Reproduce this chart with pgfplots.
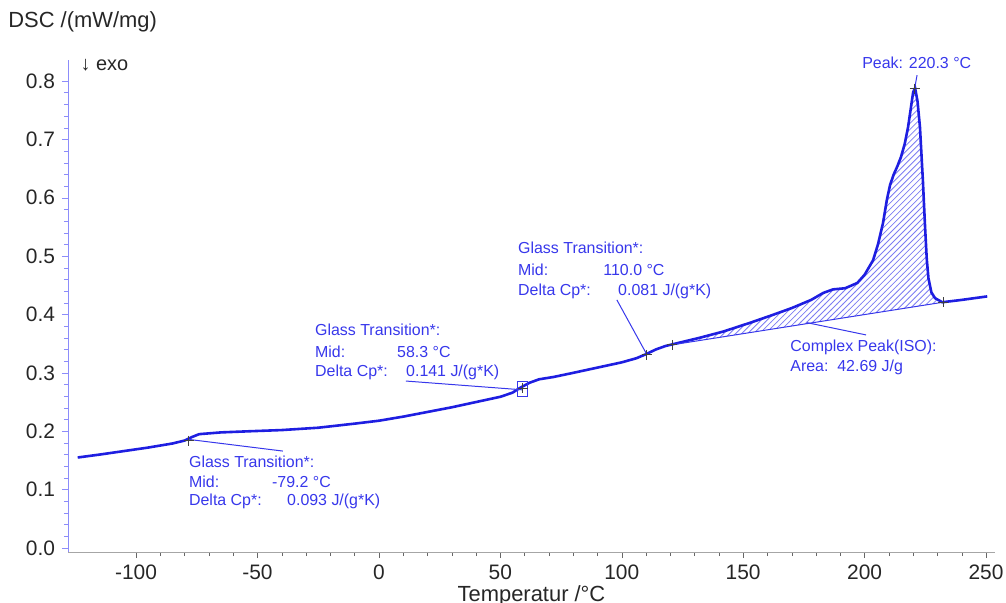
\documentclass[border=0pt]{standalone}
\usepackage{fontspec}
\setmainfont{Liberation Sans}
\usepackage{pgfplots}
\pgfplotsset{compat=1.18}
\usepgfplotslibrary{fillbetween}
\usetikzlibrary{patterns}
\definecolor{dsc}{RGB}{30,30,225}
\definecolor{ann}{RGB}{55,55,235}
\definecolor{yax}{RGB}{140,140,250}
\begin{document}
\begin{tikzpicture}
\begin{axis}[
  scale only axis, width=463.5bp, height=246bp,
  xmin=-128, xmax=253.7, ymin=-0.0069, ymax=0.836,
  axis x line*=bottom, axis y line*=left,
  x axis line style={-, gray!70}, y axis line style={-, yax},
  xtick={-100,-50,0,50,100,150,200,250}, minor x tick num=4,
  ytick={0,0.1,0.2,0.3,0.4,0.5,0.6,0.7,0.8}, minor y tick num=4,
  tick align=outside, major tick length=3bp, minor tick length=2bp,
  xtick style={black!60}, ytick style={yax},
  ticklabel style={font=\fontsize{10.5}{12}\selectfont, text=black!85},
  /pgf/number format/assume math mode=true,
  yticklabel style={/pgf/number format/.cd, fixed, fixed zerofill, precision=1},
  xlabel={Temperatur /°C},
  xlabel style={font=\fontsize{11}{13}\selectfont, text=black!85,
    at={(axis description cs:0.5,0)}, anchor=base, yshift=-24.5bp},
  clip=false,
]
\coordinate (ll) at (rel axis cs:0,0);
\coordinate (ur) at (rel axis cs:1,1);
\node[anchor=base west, inner sep=0, font=\fontsize{11}{13}\selectfont, text=black!85]
  at ([shift={(-30bp,16.5bp)}]rel axis cs:0,1) {DSC /(mW/mg)};
\node[anchor=west, inner sep=0, font=\fontsize{10}{12}\selectfont, text=black!85]
  at (axis cs:-123,0.827) {↓ exo};

% measured DSC curve
\addplot[dsc, line width=1.3bp, name path=curve] coordinates {
(-124,0.155) (-115,0.160) (-105,0.166) (-95,0.172) (-85,0.179) (-80,0.184)
(-77,0.190) (-74,0.195) (-65,0.198) (-53,0.200) (-40,0.202) (-25,0.206)
(-10,0.213) (0,0.218) (10,0.225) (20,0.233) (30,0.241) (40,0.250)
(50,0.259) (55,0.266) (58,0.274) (62,0.283) (66,0.289) (72,0.293)
(80,0.300) (90,0.309) (100,0.318) (106,0.325) (110,0.332) (114,0.340)
(118,0.346) (122,0.350) (132,0.360) (142,0.371) (153,0.386) (162,0.399)
(170,0.411) (178,0.425) (183,0.437) (187,0.443) (192,0.445) (197,0.454)
(200,0.468) (203.5,0.493) (205.5,0.520) (207.6,0.557) (209.2,0.597)
(210.5,0.622) (212,0.640) (213.5,0.654) (215,0.670) (216.5,0.692)
(217.9,0.721) (219.2,0.758) (220,0.781) (220.8,0.788) (221.8,0.765)
(222.8,0.721) (224,0.630) (224.9,0.550) (225.6,0.495) (226.3,0.462)
(227.5,0.438) (229,0.428) (232,0.421) (240,0.425) (250.5,0.431)};
% integration baseline
\addplot[ann, line width=0.5bp, name path=base] coordinates {(120.7,0.348) (232.3,0.421)};
\addplot[pattern=north east lines, pattern color=ann!65] fill between[of=curve and base, soft clip={domain=120.7:232.3}];

% evaluation markers
\addplot[only marks, mark=+, mark size=2.5bp, black!75, line width=0.5bp] coordinates {
(-78.3,0.184) (59.3,0.274) (110.4,0.331) (120.7,0.348) (220.6,0.787) (232.3,0.421)};

% annotations
\tikzset{lbl/.style={anchor=west, inner sep=0, text=ann, font=\fontsize{8}{10}\selectfont}}
\draw[ann, line width=0.5bp] (axis cs:-78.3,0.186) -- (axis cs:-39.5,0.166);
\node[lbl] at (axis cs:-78.3,0.147) {Glass Transition*:};
\node[lbl] at (axis cs:-78.3,0.113) {Mid:};
\node[lbl] at (axis cs:-44.1,0.113) {-79.2 °C};
\node[lbl] at (axis cs:-78.3,0.079) {Delta Cp*:};
\node[lbl] at (axis cs:-37.9,0.079) {0.093 J/(g*K)};

\draw[ann, line width=0.5bp] (axis cs:57.2,0.259) rectangle (axis cs:61,0.286);
\draw[ann, line width=0.5bp] (axis cs:11.1,0.286) -- (axis cs:58.9,0.271);
\node[lbl] at (axis cs:-26.4,0.373) {Glass Transition*:};
\node[lbl] at (axis cs:-26.4,0.336) {Mid:};
\node[lbl] at (axis cs:7.4,0.336) {58.3 °C};
\node[lbl] at (axis cs:-26.4,0.301) {Delta Cp*:};
\node[lbl] at (axis cs:11.1,0.301) {0.141 J/(g*K)};

\draw[ann, line width=0.5bp] (axis cs:98,0.425) -- (axis cs:110.4,0.331);
\node[lbl] at (axis cs:57.2,0.514) {Glass Transition*:};
\node[lbl] at (axis cs:57.2,0.476) {Mid:};
\node[lbl] at (axis cs:92.3,0.476) {110.0 °C};
\node[lbl] at (axis cs:57.2,0.440) {Delta Cp*:};
\node[lbl] at (axis cs:98.4,0.440) {0.081 J/(g*K)};

\draw[ann, line width=0.5bp] (axis cs:176.3,0.386) -- (axis cs:200.6,0.365);
\node[lbl] at (axis cs:169.3,0.344) {Complex Peak(ISO):};
\node[lbl] at (axis cs:169.3,0.310) {Area:\ \ 42.69 J/g};

\draw[ann, line width=0.5bp] (axis cs:221.6,0.810) -- (axis cs:220.6,0.787);
\node[lbl] at (axis cs:198.9,0.831) {Peak: 220.3 °C};
\end{axis}
\pgfresetboundingbox
\path[use as bounding box] ([shift={(-34bp,-25.5bp)}]ll) rectangle ([shift={(5.5bp,30bp)}]ur);
\end{tikzpicture}
\end{document}
